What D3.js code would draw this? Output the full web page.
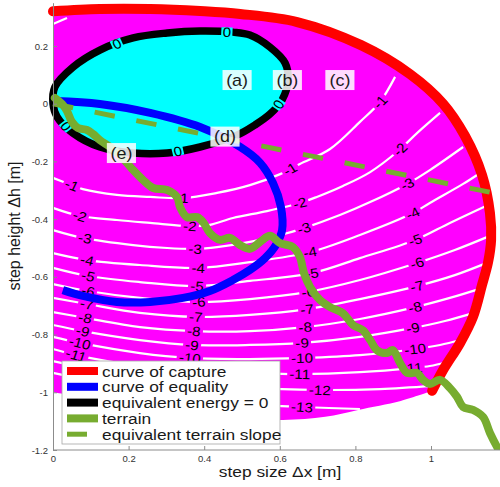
<!DOCTYPE html>
<html>
<head>
<meta charset="utf-8">
<script src="https://cdn.jsdelivr.net/npm/d3@7"></script>
<style>
  html, body { margin: 0; padding: 0; background: #fff; }
  svg { display: block; font-family: "Liberation Sans", Arial, Helvetica, sans-serif; }
</style>
</head>
<body>
<svg id="chart" width="500" height="487"></svg>
<script>
// ---- axis ticks ----
const xTicks = [0, 0.2, 0.4, 0.6, 0.8, 1];
const yTicks = [-1.2, -1, -0.8, -0.6, -0.4, -0.2, 0, 0.2];

// ---- curve of capture (Δx, Δh) ----
const captureCurve = [
  [0.000, 0.320], [0.124, 0.328], [0.257, 0.328], [0.389, 0.321], [0.495, 0.311],
  [0.646, 0.283], [0.815, 0.203], [0.944, 0.103], [1.032, 0.000], [1.090, -0.112],
  [1.135, -0.247], [1.156, -0.379], [1.159, -0.472], [1.151, -0.549], [1.135, -0.628],
  [1.111, -0.739], [1.077, -0.829], [1.032, -0.923], [1.003, -0.995]
];

// lower edge of the shaded capture region
const regionFloor = [
  [1.003, -0.995], [0.920, -1.030], [0.807, -1.061], [0.720, -1.085], [0.608, -1.096],
  [0.450, -1.085], [0.250, -1.050], [0.000, -1.000]
];

// ---- equivalent energy = 0 (closed loop) ----
const zeroEnergy = [
  [0.000, 0.000], [0.005, 0.058], [0.053, 0.127], [0.124, 0.186], [0.212, 0.228],
  [0.302, 0.245], [0.389, 0.252], [0.476, 0.248], [0.521, 0.238], [0.574, 0.196],
  [0.614, 0.141], [0.622, 0.082], [0.606, 0.013], [0.574, -0.036], [0.534, -0.074],
  [0.487, -0.109], [0.389, -0.150], [0.302, -0.171], [0.212, -0.171], [0.124, -0.150],
  [0.053, -0.102], [0.011, -0.046]
];
const zeroLabelsAt = [[0.164, 0.224], [0.460, 0.248], [0.593, 0.002], [0.032, -0.081], [0.331, -0.171]];

// ---- curve of equality ----
const equalityCurve = [
  [0.005, 0.009], [0.124, -0.001], [0.257, -0.032], [0.389, -0.081], [0.495, -0.150],
  [0.548, -0.205], [0.582, -0.275], [0.603, -0.358], [0.606, -0.438], [0.590, -0.489],
  [0.561, -0.535], [0.521, -0.576], [0.476, -0.611], [0.415, -0.649], [0.344, -0.673],
  [0.257, -0.687], [0.169, -0.687], [0.079, -0.666], [0.026, -0.646]
];

// ---- terrain profile ----
const terrain = [
  [0.005, 0.020], [0.024, -0.001], [0.037, -0.025], [0.050, -0.063], [0.066, -0.084],
  [0.090, -0.091], [0.106, -0.105], [0.124, -0.126], [0.151, -0.150], [0.177, -0.178],
  [0.196, -0.206], [0.212, -0.230], [0.238, -0.264], [0.265, -0.292], [0.302, -0.299],
  [0.328, -0.323], [0.336, -0.358], [0.354, -0.393], [0.381, -0.393], [0.397, -0.410],
  [0.415, -0.448], [0.442, -0.472], [0.468, -0.465], [0.495, -0.490], [0.521, -0.503],
  [0.548, -0.479], [0.574, -0.458], [0.601, -0.483], [0.635, -0.497], [0.653, -0.531],
  [0.664, -0.587], [0.680, -0.635], [0.706, -0.680], [0.733, -0.705], [0.767, -0.726],
  [0.794, -0.767], [0.820, -0.785], [0.839, -0.819], [0.857, -0.854], [0.884, -0.864],
  [0.899, -0.854], [0.918, -0.898], [0.937, -0.933], [0.963, -0.933], [0.979, -0.957],
  [0.997, -0.971], [1.024, -0.957], [1.050, -0.985], [1.069, -1.016], [1.085, -1.051],
  [1.111, -1.061], [1.138, -1.086], [1.156, -1.141], [1.175, -1.190], [1.188, -1.218]
];

// ---- equivalent terrain slope ----
const equivalentSlope = [[0, 0], [1.157, -0.307]];

// ---- equivalent energy contour levels ----
const cTop1 = [[0.000, 0.276], [0.037, 0.297]];
const c1 = [[0, -0.257], [0.050, -0.282], [0.079, -0.296], [0.169, -0.316], [0.257, -0.323], [0.344, -0.327], [0.434, -0.309], [0.521, -0.282], [0.601, -0.244], [0.653, -0.209], [0.733, -0.157], [0.812, -0.063], [0.865, 0.006], [0.905, 0.093]];
const c2 = [[0, -0.361], [0.071, -0.389], [0.169, -0.403], [0.257, -0.413], [0.362, -0.424], [0.415, -0.420], [0.476, -0.396], [0.566, -0.372], [0.653, -0.344], [0.698, -0.323], [0.767, -0.285], [0.839, -0.237], [0.913, -0.164], [0.963, -0.102], [1.024, -0.032]];
const c3 = [[0, -0.438], [0.079, -0.465], [0.212, -0.490], [0.302, -0.500], [0.376, -0.503], [0.434, -0.497], [0.521, -0.479], [0.601, -0.455], [0.664, -0.431], [0.759, -0.386], [0.839, -0.341], [0.937, -0.278], [0.997, -0.230], [1.085, -0.150]];
const c4 = [[0, -0.518], [0.090, -0.542], [0.230, -0.559], [0.384, -0.569], [0.521, -0.549], [0.680, -0.514], [0.812, -0.455], [0.952, -0.379], [0.997, -0.344], [1.085, -0.278], [1.130, -0.240]];
const c5 = [[0, -0.569], [0.093, -0.597], [0.230, -0.618], [0.381, -0.632], [0.521, -0.614], [0.685, -0.587], [0.812, -0.535], [0.958, -0.472], [1.050, -0.413], [1.151, -0.351]];
const c6 = [[0, -0.625], [0.093, -0.649], [0.230, -0.673], [0.384, -0.687], [0.521, -0.677], [0.675, -0.652], [0.812, -0.611], [0.963, -0.552], [1.063, -0.507], [1.156, -0.458]];
const c7 = [[0, -0.673], [0.090, -0.694], [0.230, -0.725], [0.381, -0.739], [0.521, -0.732], [0.672, -0.712], [0.812, -0.677], [0.963, -0.632], [1.063, -0.594], [1.153, -0.549]];
const c8 = [[0, -0.722], [0.085, -0.742], [0.230, -0.774], [0.376, -0.788], [0.521, -0.788], [0.667, -0.774], [0.812, -0.746], [0.958, -0.705], [1.050, -0.673], [1.135, -0.639]];
const c9 = [[0, -0.767], [0.079, -0.788], [0.230, -0.819], [0.368, -0.836], [0.521, -0.836], [0.659, -0.829], [0.812, -0.808], [0.952, -0.777], [1.037, -0.753], [1.114, -0.725]];
const c10 = [[0, -0.808], [0.071, -0.829], [0.230, -0.864], [0.362, -0.881], [0.521, -0.885], [0.659, -0.881], [0.812, -0.871], [0.958, -0.850], [1.024, -0.836], [1.079, -0.819]];
const c11 = [[0, -0.850], [0.061, -0.871], [0.230, -0.909], [0.376, -0.926], [0.521, -0.933], [0.653, -0.937], [0.812, -0.930], [0.950, -0.916], [0.997, -0.909], [1.042, -0.895]];
const c12 = [[0, -0.892], [0.230, -0.950], [0.521, -0.985], [0.706, -0.992], [0.865, -0.989], [1.005, -0.978]];
const c13 = [[0, -0.933], [0.257, -0.999], [0.521, -1.040], [0.659, -1.051], [0.812, -1.058]];

const contourLevels = [-1, -2, -3, -4, -5, -6, -7, -8, -9, -10, -11, -12, -13];
const contourLines = [c1, c2, c3, c4, c5, c6, c7, c8, c9, c10, c11, c12, c13];
// Δx positions at which each level is labelled
const contourLabelX = [
  [0.050, 0.341, 0.627, 0.865],
  [0.071, 0.362, 0.653, 0.918],
  [0.085, 0.376, 0.664, 0.937],
  [0.090, 0.384, 0.680, 0.952],
  [0.093, 0.381, 0.685, 0.958],
  [0.093, 0.386, 0.675, 0.963],
  [0.090, 0.378, 0.672, 0.963],
  [0.085, 0.373, 0.667, 0.958],
  [0.079, 0.368, 0.659, 0.952],
  [0.071, 0.362, 0.659, 0.958],
  [0.061, 0.376, 0.653, 0.950],
  [0.706],
  [0.659]
];

// ---- annotated gait cases ----
const caseNames = ["(a)", "(b)", "(c)", "(d)", "(e)"];
const caseAt = [[0.487, 0.082], [0.620, 0.082], [0.759, 0.082], [0.455, -0.114], [0.181, -0.171]];

// ---- legend ----
const legendNames = ["curve of capture", "curve of equality", "equivalent energy = 0", "terrain", "equivalent terrain slope"];

// =====================================================================
const C = {
  magenta: "#ff00ff", cyan: "#00ffff", red: "#ff0000", blue: "#0000ff",
  green: "#77ac30", black: "#000000"
};
const S = 1.12; // horizontal glyph stretch

const svg = d3.select("#chart");
const x = d3.scaleLinear().domain([0, 1.2]).range([53, 506.6]);
const y = d3.scaleLinear().domain([-1.2, 0.35]).range([450, 2.7]);

const defs = svg.append("defs");
defs.append("clipPath").attr("id", "plotClip")
  .append("rect").attr("x", 40).attr("y", 0).attr("width", 470).attr("height", 450);

const smooth = d3.line().x(d => x(d[0])).y(d => y(d[1])).curve(d3.curveCatmullRom.alpha(0.5));
const straight = d3.line().x(d => x(d[0])).y(d => y(d[1]));
const closedSmooth = d3.line().x(d => x(d[0])).y(d => y(d[1])).curve(d3.curveCatmullRomClosed.alpha(0.5));

const plot = svg.append("g").attr("clip-path", "url(#plotClip)");

// shaded capture region
const regionPath = smooth(captureCurve) + "L" + smooth(regionFloor).slice(1) + "Z";
plot.append("path").attr("d", regionPath).attr("fill", C.magenta);

// positive-energy region
plot.append("path").attr("d", closedSmooth(zeroEnergy)).attr("fill", C.cyan);

// helpers for label placement
function normAngle(a) {
  while (a > 90) a -= 180;
  while (a < -90) a += 180;
  return a;
}
function glyphAngle(dx, dy) {
  return normAngle(Math.atan2(dy, dx / S) * 180 / Math.PI);
}
function alongLine(pts, xv) {
  for (let i = 0; i < pts.length - 1; i++) {
    const a = pts[i], b = pts[i + 1];
    if (xv >= a[0] && xv <= b[0]) {
      const t = (xv - a[0]) / (b[0] - a[0]);
      const hv = a[1] + t * (b[1] - a[1]);
      const dx = x(b[0]) - x(a[0]), dy = y(b[1]) - y(a[1]);
      return { px: x(xv), py: y(hv), ang: glyphAngle(dx, dy) };
    }
  }
  return null;
}
function nearestOnLoop(pts, p) {
  const P = [x(p[0]), y(p[1])];
  let best = null;
  for (let i = 0; i < pts.length; i++) {
    const a = [x(pts[i][0]), y(pts[i][1])];
    const b = [x(pts[(i + 1) % pts.length][0]), y(pts[(i + 1) % pts.length][1])];
    const vx = b[0] - a[0], vy = b[1] - a[1];
    let t = ((P[0] - a[0]) * vx + (P[1] - a[1]) * vy) / (vx * vx + vy * vy);
    t = Math.max(0, Math.min(1, t));
    const qx = a[0] + t * vx, qy = a[1] + t * vy;
    const d = Math.hypot(P[0] - qx, P[1] - qy);
    if (!best || d < best.d) best = { d, px: qx, py: qy, ang: glyphAngle(vx, vy) };
  }
  return best;
}
const tf = l => `translate(${l.px},${l.py}) scale(${S},1) rotate(${l.ang})`;

// label placements
const contourLabelPos = [];
contourLines.forEach((pts, i) => {
  contourLabelX[i].forEach(xv => {
    const l = alongLine(pts, xv);
    if (l) contourLabelPos.push(Object.assign(l, { text: String(contourLevels[i]) }));
  });
});

// mask that opens a gap in the level lines where each label sits
const mask = defs.append("mask").attr("id", "labelGaps").attr("maskUnits", "userSpaceOnUse")
  .attr("x", 0).attr("y", 0).attr("width", 500).attr("height", 487);
mask.append("rect").attr("x", 0).attr("y", 0).attr("width", 500).attr("height", 487).attr("fill", "#fff");

// level lines
const levels = plot.append("g").attr("mask", "url(#labelGaps)")
  .attr("fill", "none").attr("stroke", "#fff").attr("stroke-width", 2.2);
contourLines.forEach(pts => levels.append("path").attr("d", smooth(pts)));
levels.append("path").attr("d", smooth(cTop1));

// zero-energy boundary
plot.append("path").attr("d", closedSmooth(zeroEnergy))
  .attr("fill", "none").attr("stroke", C.black).attr("stroke-width", 7.5);

// level labels
const labelG = plot.append("g").attr("font-size", 13.5).attr("text-anchor", "middle");
contourLabelPos.forEach(l => {
  const t = labelG.append("text").attr("transform", tf(l)).attr("dy", "0.36em").text(l.text);
  const w = t.node().getComputedTextLength() + 4;
  mask.append("rect").attr("transform", tf(l))
    .attr("x", -w / 2).attr("y", -6).attr("width", w).attr("height", 12).attr("fill", "#000");
});

// zero labels on the boundary
zeroLabelsAt.forEach(p => {
  const l = nearestOnLoop(zeroEnergy, p);
  const g = plot.append("g").attr("transform", tf(l));
  g.append("rect").attr("x", -5).attr("y", -4.5).attr("width", 10).attr("height", 9).attr("fill", C.cyan);
  g.append("text").attr("text-anchor", "middle").attr("dy", "0.36em")
    .attr("font-size", 13.5).attr("fill", "#000").text("0");
});

// curve of capture
plot.append("path").attr("d", smooth(captureCurve))
  .attr("fill", "none").attr("stroke", C.red).attr("stroke-width", 10)
  .attr("stroke-linecap", "round").attr("stroke-linejoin", "round");

// curve of equality
plot.append("path").attr("d", smooth(equalityCurve))
  .attr("fill", "none").attr("stroke", C.blue).attr("stroke-width", 8);

// terrain
plot.append("path").attr("d", smooth(terrain))
  .attr("fill", "none").attr("stroke", C.green).attr("stroke-width", 8)
  .attr("stroke-linecap", "round").attr("stroke-linejoin", "round");

// equivalent terrain slope
plot.append("path").attr("d", straight(equivalentSlope))
  .attr("fill", "none").attr("stroke", C.green).attr("stroke-width", 5)
  .attr("stroke-dasharray", "20.5 22");

// case annotations
caseNames.forEach((name, i) => {
  const px = x(caseAt[i][0]), py = y(caseAt[i][1]);
  const g = svg.append("g").attr("transform", `translate(${px},${py}) scale(${S},1)`);
  g.append("rect").attr("x", -13).attr("y", -10).attr("width", 26).attr("height", 20)
    .attr("fill", "#fff").attr("fill-opacity", 0.85);
  g.append("text").attr("text-anchor", "middle").attr("dy", "0.36em")
    .attr("font-size", 16).attr("fill", "#1a1a1a").text(name);
});

// axes
const fmt = d => String(d);
const axisColor = "#8c8c8c";
const xAxis = svg.append("g").attr("transform", "translate(0,450)")
  .call(d3.axisBottom(x).tickValues(xTicks).tickFormat(fmt).tickSizeInner(-4).tickSizeOuter(0).tickPadding(5));
const yAxis = svg.append("g").attr("transform", "translate(53,0)")
  .call(d3.axisLeft(y).tickValues(yTicks).tickFormat(fmt).tickSizeInner(-4).tickSizeOuter(0).tickPadding(5));
xAxis.select(".domain").attr("d", "M53,0H500");
[xAxis, yAxis].forEach(a => {
  a.select(".domain").attr("stroke", axisColor);
  a.selectAll(".tick line").attr("stroke", axisColor);
  a.selectAll("text").attr("font-size", 9.5).attr("fill", "#333")
    .attr("font-family", "'Liberation Sans', Arial, sans-serif");
});

svg.append("text").attr("transform", `translate(280,477) scale(${S},1)`)
  .attr("text-anchor", "middle").attr("font-size", 15.5).attr("fill", "#1a1a1a")
  .text("step size Δx [m]");
svg.append("text").attr("transform", `translate(20,226) rotate(-90)`)
  .attr("text-anchor", "middle").attr("font-size", 16).attr("fill", "#1a1a1a")
  .text("step height Δh [m]");

// legend
const lg = svg.append("g").attr("transform", "translate(62,361)");
lg.append("rect").attr("width", 218).attr("height", 83)
  .attr("fill", "#fff").attr("stroke", "#a6a6a6").attr("stroke-width", 0.8);
const legendStyles = [
  { stroke: C.red, width: 8, x2: 36 },
  { stroke: C.blue, width: 8, x2: 36 },
  { stroke: C.black, width: 8, x2: 36 },
  { stroke: C.green, width: 8, x2: 36 },
  { stroke: C.green, width: 5, x2: 25 }
];
legendNames.forEach((name, i) => {
  const cy = 10 + i * 15.8;
  const st = legendStyles[i];
  lg.append("line").attr("x1", 5).attr("x2", st.x2).attr("y1", cy).attr("y2", cy)
    .attr("stroke", st.stroke).attr("stroke-width", st.width);
  lg.append("text").attr("transform", `translate(40,${cy}) scale(${S},1)`)
    .attr("dy", "0.36em").attr("font-size", 15.5).attr("fill", "#1a1a1a").text(name);
});
</script>
</body>
</html>
